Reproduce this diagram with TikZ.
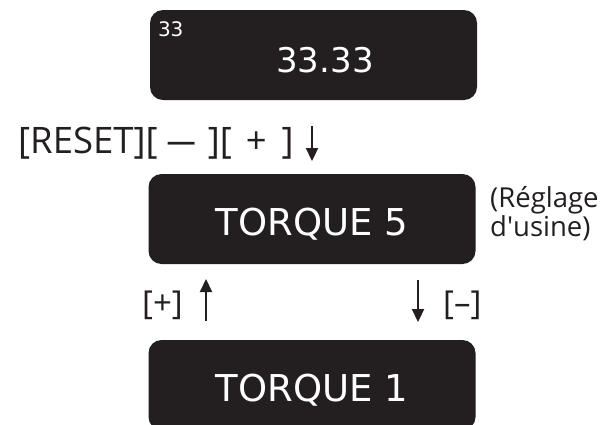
\documentclass[tikz,border=0pt]{standalone}
\usepackage{fontspec}
\setmainfont{Open Sans}
\newfontfamily\dvs{DejaVu Sans}
\usetikzlibrary{arrows.meta,calc}
\definecolor{boxblack}{HTML}{231F20}
\begin{document}
\begin{tikzpicture}[x=1pt,y=-1pt,
  panel/.style={fill=boxblack, rounded corners=13pt, minimum width=327pt, minimum height=90pt,
    inner sep=0pt, text=white, font=\dvs\fontsize{37}{37}\selectfont, text height=32pt, text depth=0pt},
  lbl/.style={inner sep=0pt, text=boxblack},
  arr/.style={line width=2.2pt, draw=boxblack, -{Triangle[width=12pt,length=13pt]}}]
\useasboundingbox (0,0) rectangle (601,424);
\clip (0,0) rectangle (601,424);
% panels
\node[panel] (b1) at (313.5,55) {};
\node[panel] (b2) at (312,219) {TORQUE 5};
\node[panel] (b3) at (312,385) {TORQUE 1};
% texts in top panel
\node[anchor=base, inner sep=0pt, text=white, font=\dvs\fontsize{34}{34}\selectfont] (val) at ($(b1.center)+(11.5,17)$) {33.33};
\node[anchor=base west, inner sep=0pt, text=white, font=\dvs\fontsize{20}{20}\selectfont] (small) at ($(b1.north west)+(8,27)$) {33};
% key label
\node[lbl, anchor=base west, font=\fontsize{36.5}{36.5}\selectfont] (keys) at (18,153)
  {[RESET][\hspace{9pt}\scalebox{0.8}[1]{—}\hspace{12pt}][\hspace{14pt}+\hspace{15pt}]};
\coordinate (k1) at (312,126);
\coordinate (k2) at (312,161);
\draw[arr] (k1) -- (k2);
% factory note
\node[lbl, anchor=north west, align=left, font=\fontsize{27.5}{27}\selectfont] (note) at (490,186.5) {(Réglage\\d\textquotesingle usine)};
% plus / minus
\node[lbl, anchor=base west, font=\fontsize{33}{33}\selectfont] (plus) at (142,314) {[+]};
\node[lbl, anchor=base west, font=\fontsize{33}{33}\selectfont] (minus) at (443,314) {[–]};
\coordinate (u1) at (206,321);
\coordinate (u2) at (206,279);
\coordinate (d1) at (418,280);
\coordinate (d2) at (418,322);
\draw[arr] (u1) -- (u2);
\draw[arr] (d1) -- (d2);
\end{tikzpicture}
\end{document}
